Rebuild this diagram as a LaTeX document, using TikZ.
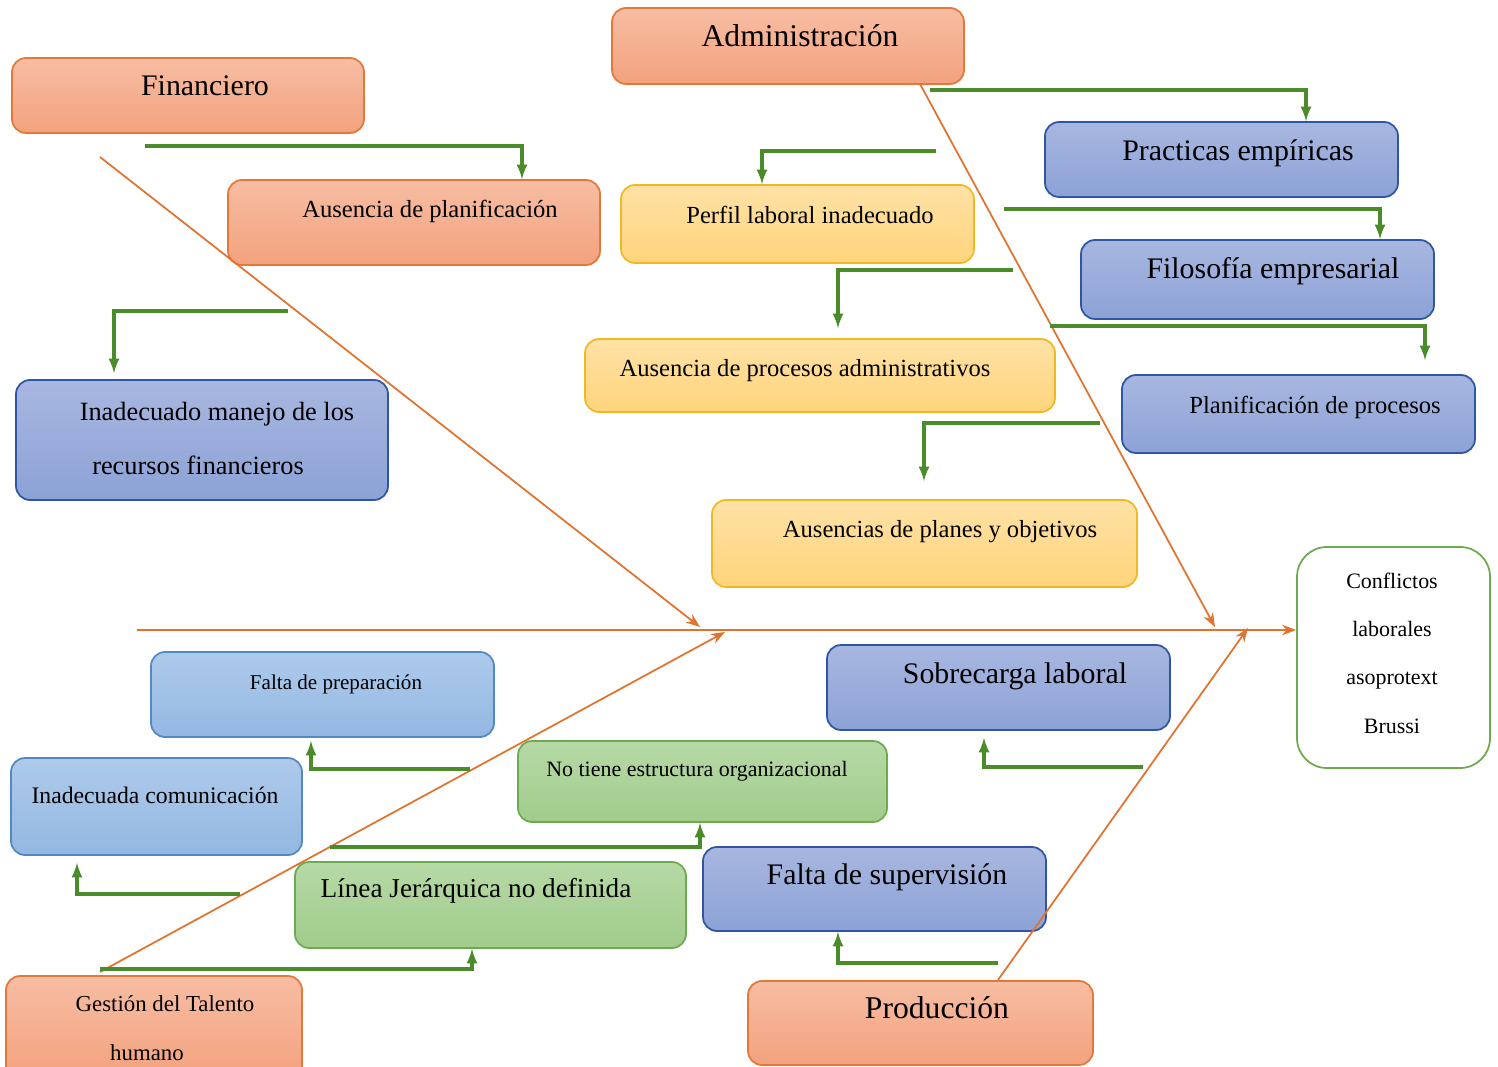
\documentclass[tikz,border=0pt]{standalone}
\usepackage{fontspec}
\setmainfont{Liberation Serif}
\usepackage{tikz}
\usetikzlibrary{arrows,arrows.meta,positioning,fit,calc}

\definecolor{naranjaA}{HTML}{F7BDA3}
\definecolor{naranjaB}{HTML}{F3A27E}
\definecolor{naranjaL}{HTML}{E2783A}
\definecolor{azulA}{HTML}{A8B7E0}
\definecolor{azulB}{HTML}{8CA2D6}
\definecolor{azulL}{HTML}{2F55A4}
\definecolor{celesteA}{HTML}{AECAEB}
\definecolor{celesteB}{HTML}{93B8E2}
\definecolor{celesteL}{HTML}{5388C4}
\definecolor{amarilloA}{HTML}{FFE2A6}
\definecolor{amarilloB}{HTML}{FFD47C}
\definecolor{amarilloL}{HTML}{F2B824}
\definecolor{verdeA}{HTML}{B6D9A6}
\definecolor{verdeB}{HTML}{A1CC8B}
\definecolor{verdeL}{HTML}{6DAA52}
\definecolor{flecha}{HTML}{4A8C2A}
\definecolor{espina}{HTML}{E2732F}

\newcommand{\fsz}[1]{\fontsize{#1}{#1}\selectfont}

\begin{document}
\begin{tikzpicture}[x=0.02cm,y=-0.02cm,>=stealth',
                    caja/.style={rounded corners=8pt,inner sep=0pt,line width=1pt},
                    obox/.style={caja,draw=naranjaL,top color=naranjaA,bottom color=naranjaB},
                    bbox/.style={caja,draw=azulL,top color=azulA,bottom color=azulB},
                    cbox/.style={caja,draw=celesteL,top color=celesteA,bottom color=celesteB},
                    ybox/.style={caja,draw=amarilloL,top color=amarilloA,bottom color=amarilloB},
                    gbox/.style={caja,draw=verdeL,top color=verdeA,bottom color=verdeB},
                    txt/.style={inner sep=0pt,text height=0.7em,text depth=0.2em,yshift=-2.5pt},
                    bone/.style={-{Stealth[length=8pt,width=6pt]},draw=espina,line width=1pt},
                    sub/.style={->,draw=flecha,line width=1.8pt,>=latex}]

  \useasboundingbox (0,0) rectangle (1498,1067);

  % cajas principales
  \node[obox,fit={(12,58) (364,133)}] (fin) {};
  \node[txt,font={\fsz{17}}] (fin-t) at (205,87) {Financiero};
  \node[obox,fit={(612,8) (964,84)}] (adm) {};
  \node[txt,font={\fsz{18}}] (adm-t) at (800,38) {Administración};
  \node[obox,fit={(6,976) (302,1080)}] (gth) {};
  \node[txt,font={\fsz{13}}] (gth-t1) at (165,1003) {Gestión del Talento};
  \node[txt,font={\fsz{13}}] (gth-t2) at (147,1052) {humano};
  \node[obox,fit={(748,981) (1093,1065)}] (pro) {};
  \node[txt,font={\fsz{18}}] (pro-t) at (937,1010) {Producción};

  % efecto
  \node[caja,rounded corners=17pt,draw=verdeL,fill=white,fit={(1297,547) (1490,768)}] (res) {};
  \node[inner sep=0pt,align=center,font={\fsz{12.5}}] (res-t) at (1392,653)
        {Conflictos\\[15pt]laborales\\[15pt]asoprotext\\[15pt]Brussi};

  % financiero
  \node[obox,fit={(228,180) (600,265)}] (apla) {};
  \node[txt,font={\fsz{14}}] (apla-t) at (430,209) {Ausencia de planificación};
  \node[bbox,fit={(16,380) (388,500)}] (rec) {};
  \node[txt,font={\fsz{15}}] (rec-t1) at (217,412) {Inadecuado manejo de los};
  \node[txt,font={\fsz{15}}] (rec-t2) at (198,466) {recursos financieros};

  % administracion
  \node[ybox,fit={(621,185) (974,263)}] (per) {};
  \node[txt,font={\fsz{14}}] (per-t) at (810,215) {Perfil laboral inadecuado};
  \node[ybox,fit={(585,339) (1055,412)}] (apro) {};
  \node[txt,font={\fsz{14}}] (apro-t) at (805,368) {Ausencia de procesos administrativos};
  \node[ybox,fit={(712,500) (1137,587)}] (apo) {};
  \node[txt,font={\fsz{14}}] (apo-t) at (940,529) {Ausencias de planes y objetivos};
  \node[bbox,fit={(1045,122) (1398,197)}] (pem) {};
  \node[txt,font={\fsz{17}}] (pem-t) at (1238,152) {Practicas empíricas};
  \node[bbox,fit={(1081,240) (1434,319)}] (fil) {};
  \node[txt,font={\fsz{17}}] (fil-t) at (1273,270) {Filosofía empresarial};
  \node[bbox,fit={(1122,375) (1475,453)}] (ppr) {};
  \node[txt,font={\fsz{14}}] (ppr-t) at (1315,405) {Planificación de procesos};

  % talento humano
  \node[cbox,fit={(151,652) (494,737)}] (fpr) {};
  \node[txt,font={\fsz{12}}] (fpr-t) at (336,681) {Falta de preparación};
  \node[cbox,fit={(11,758) (302,855)}] (com) {};
  \node[txt,font={\fsz{13.5}}] (com-t) at (155,795) {Inadecuada comunicación};
  \node[gbox,fit={(518,741) (887,822)}] (est) {};
  \node[txt,font={\fsz{12.5}}] (est-t) at (697,768) {No tiene estructura organizacional};
  \node[gbox,fit={(295,862) (686,948)}] (lin) {};
  \node[txt,font={\fsz{15.5}}] (lin-t) at (476,889) {Línea Jerárquica no definida};

  % produccion
  \node[bbox,fit={(827,645) (1170,730)}] (sob) {};
  \node[txt,font={\fsz{17}}] (sob-t) at (1015,675) {Sobrecarga laboral};
  \node[bbox,fit={(703,847) (1046,931)}] (sup) {};
  \node[txt,font={\fsz{17}}] (sup-t) at (887,876) {Falta de supervisión};

  % espina y huesos
  \coordinate (sp0) at (137,630);
  \coordinate (b1) at (100,157);
  \coordinate (b1e) at (700,627);
  \coordinate (b2) at (920,84);
  \coordinate (b2e) at (1215,627);
  \coordinate (b3) at (100,972);
  \coordinate (b3e) at (725,632);
  \coordinate (b4) at (998,980);
  \coordinate (b4e) at (1248,628);
  \draw[bone] (sp0) -- (sp0 -| res.west);
  \draw[bone] (b1) -- (b1e);
  \draw[bone] (b2) -- (b2e);
  \draw[bone] (b3) -- (b3e);
  \draw[bone] (b4) -- (b4e);

  % flechas verdes arriba
  \coordinate (g1) at (145,146);   \coordinate (k1) at (522,146);
  \coordinate (g2) at (288,311);   \coordinate (k2) at (114,311);
  \coordinate (g3) at (930,90);    \coordinate (k3) at (1306,90);
  \coordinate (g4) at (936,151);   \coordinate (k4) at (762,151);
  \coordinate (g5) at (1004,209);  \coordinate (k5) at (1380,209);
  \coordinate (g6) at (1013,270);  \coordinate (k6) at (838,270);
  \coordinate (g7) at (1050,326);  \coordinate (k7) at (1425,326);
  \coordinate (g8) at (1100,423);  \coordinate (k8) at (924,423);
  \draw[sub] (g1) -- (k1) -- (k1 |- apla.north);
  \draw[sub] (g2) -- (k2) -- ($(k2 |- rec.north)+(0,-6)$);
  \draw[sub] (g3) -- (k3) -- (k3 |- pem.north);
  \draw[sub] (g4) -- (k4) -- (k4 |- per.north);
  \draw[sub] (g5) -- (k5) -- (k5 |- fil.north);
  \draw[sub] (g6) -- (k6) -- ($(k6 |- apro.north)+(0,-10)$);
  \draw[sub] (g7) -- (k7) -- ($(k7 |- ppr.north)+(0,-14)$);
  \draw[sub] (g8) -- (k8) -- ($(k8 |- apo.north)+(0,-18)$);

  % flechas verdes abajo
  \coordinate (g9) at (470,769);   \coordinate (k9) at (311,769);
  \coordinate (g10) at (240,894);  \coordinate (k10) at (77,894);
  \coordinate (g11) at (330,847);  \coordinate (k11) at (700,847);
  \coordinate (g12) at (100,969);  \coordinate (k12) at (472,969);
  \coordinate (g13) at (1143,767); \coordinate (k13) at (984,767);
  \coordinate (g14) at (998,963);  \coordinate (k14) at (838,963);
  \draw[sub] (g9) -- (k9) -- ($(k9 |- fpr.south)+(0,3)$);
  \draw[sub] (g10) -- (k10) -- ($(k10 |- com.south)+(0,7)$);
  \draw[sub] (g11) -- (k11) -- (k11 |- est.south);
  \draw[sub] (g12) -- (k12) -- (k12 |- lin.south);
  \draw[sub] (g13) -- (k13) -- ($(k13 |- sob.south)+(0,7)$);
  \draw[sub] (g14) -- (k14) -- (k14 |- sup.south);

\end{tikzpicture}
\end{document}
